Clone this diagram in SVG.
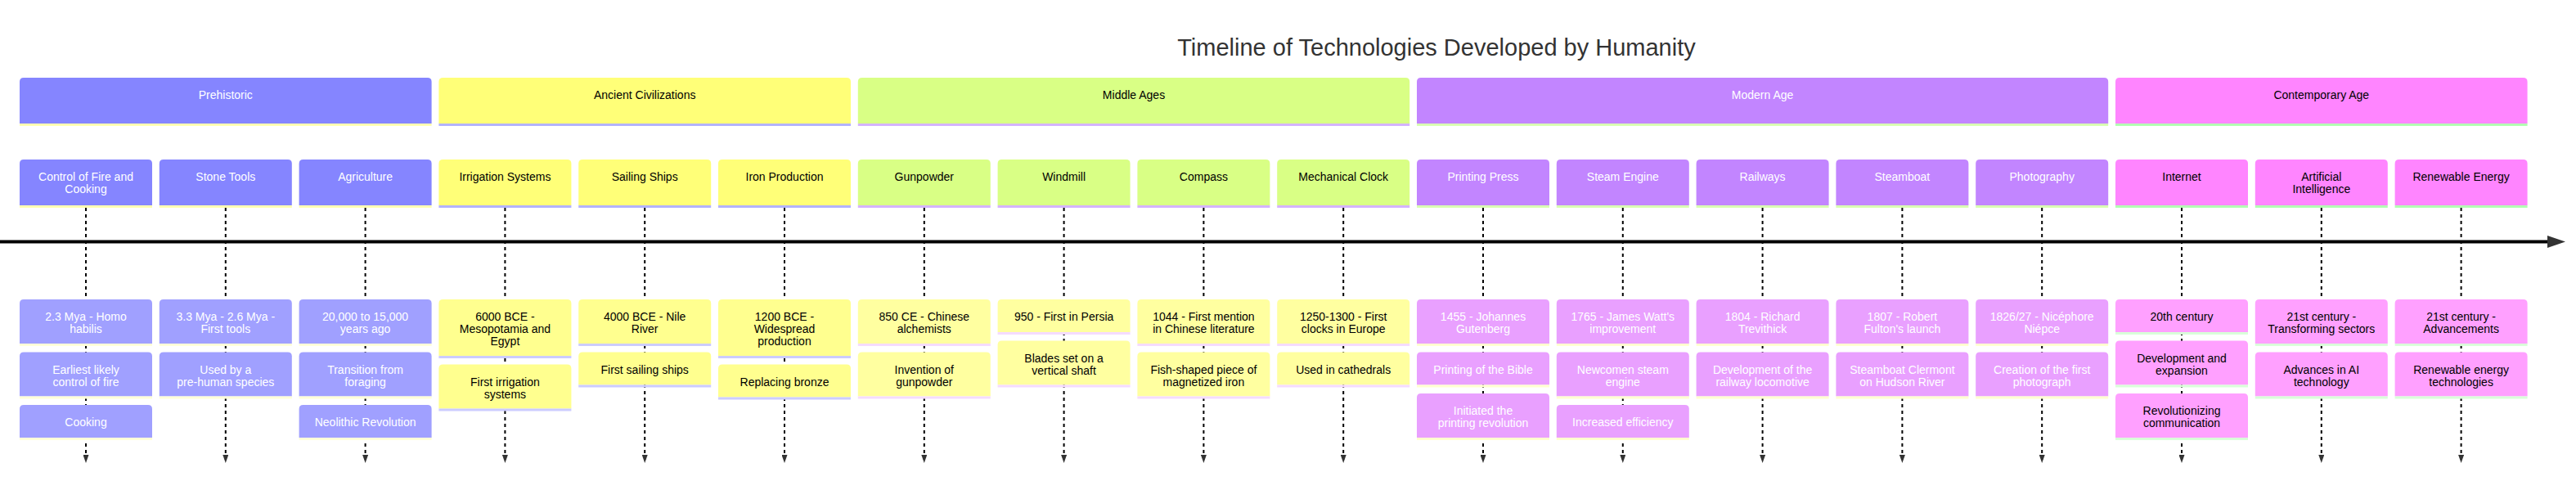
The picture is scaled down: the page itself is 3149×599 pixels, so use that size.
<svg xmlns="http://www.w3.org/2000/svg" width="3149" height="599" viewBox="0 0 3149 599">
<defs>
<style>
text{font-family:"Liberation Sans",Arial,sans-serif;font-size:14px;text-anchor:middle}
.title{font-size:29px;fill:#333}
.w{fill:#fff}.d{fill:#000}
.s0{fill:#8585ff}.e0{fill:#a0a0ff}.k0{stroke:#ffffb3}.m0{stroke:#ffffd9}
.s1{fill:#ffff78}.e1{fill:#ffff8f}.k1{stroke:#b3b3ff}.m1{stroke:#ccccff}
.s2{fill:#d9ff85}.e2{fill:#ffffa0}.k2{stroke:#d4b3ff}.m2{stroke:#f5dbff}
.s3{fill:#c285ff}.e3{fill:#e9a0ff}.k3{stroke:#d9ffb3}.m3{stroke:#ffffd0}
.s4{fill:#ff85ff}.e4{fill:#ffa0ff}.k4{stroke:#b3ffb3}.m4{stroke:#d9ffd9}
.ln{stroke-width:3;fill:none}
.dash{stroke:#000;stroke-width:2;stroke-dasharray:4 4;fill:none;marker-end:url(#ah)}
.axis{stroke:#000;stroke-width:4;fill:none}
</style>
<marker id="ah" viewBox="0 0 10 10" refX="10" refY="5" markerWidth="10" markerHeight="7" markerUnits="userSpaceOnUse" orient="auto" preserveAspectRatio="none"><path d="M0,0L10,5L0,10z" fill="#333"/></marker>
</defs>
<rect width="3149" height="599" fill="#fff"/>
<text class="title" x="1756" y="68">Timeline of Technologies Developed by Humanity</text>

<g id="connectors">
<path class="axis" d="M0,295.5H3118"/>
<path d="M3114,288L3136,295.5L3114,303z" fill="#333"/>
<path class="dash" d="M105,254V566"/>
<path class="dash" d="M275.8,254V566"/>
<path class="dash" d="M446.6,254V566"/>
<path class="dash" d="M617.4,254V566"/>
<path class="dash" d="M788.2,254V566"/>
<path class="dash" d="M959,254V566"/>
<path class="dash" d="M1129.8,254V566"/>
<path class="dash" d="M1300.6,254V566"/>
<path class="dash" d="M1471.4,254V566"/>
<path class="dash" d="M1642.2,254V566"/>
<path class="dash" d="M1813,254V566"/>
<path class="dash" d="M1983.8,254V566"/>
<path class="dash" d="M2154.6,254V566"/>
<path class="dash" d="M2325.4,254V566"/>
<path class="dash" d="M2496.2,254V566"/>
<path class="dash" d="M2667,254V566"/>
<path class="dash" d="M2837.8,254V566"/>
<path class="dash" d="M3008.6,254V566"/>
</g>

<!-- Sections -->
<g id="sec-prehistoric"><path class="s0" d="M24,151V100q0,-5 5,-5h493.6q5,0 5,5V151z"/><path class="ln k0" d="M24,152.5h503.6"/><text class="w" x="275.8" y="121">Prehistoric</text></g>
<g id="sec-ancient"><path class="s1" d="M536.4,151V100q0,-5 5,-5h493.6q5,0 5,5V151z"/><path class="ln k1" d="M536.4,152.5h503.6"/><text class="d" x="788.2" y="121">Ancient Civilizations</text></g>
<g id="sec-middle"><path class="s2" d="M1048.8,151V100q0,-5 5,-5h664.4q5,0 5,5V151z"/><path class="ln k2" d="M1048.8,152.5h674.4"/><text class="d" x="1386" y="121">Middle Ages</text></g>
<g id="sec-modern"><path class="s3" d="M1732,151V100q0,-5 5,-5h835.2q5,0 5,5V151z"/><path class="ln k3" d="M1732,152.5h845.2"/><text class="w" x="2154.6" y="121">Modern Age</text></g>
<g id="sec-contemporary"><path class="s4" d="M2586,151V100q0,-5 5,-5h493.6q5,0 5,5V151z"/><path class="ln k4" d="M2586,152.5h503.6"/><text class="d" x="2837.8" y="121">Contemporary Age</text></g>

<!-- Prehistoric -->
<g id="task-fire"><path class="s0" d="M24,251V200q0,-5 5,-5h152q5,0 5,5V251z"/><path class="ln k0" d="M24,252.5h162"/><text class="w" x="105" y="221">Control of Fire and<tspan x="105" dy="15">Cooking</tspan></text></g>
<g id="ev-fire-1"><path class="e0" d="M24,420V371q0,-5 5,-5h152q5,0 5,5V420z"/><path class="ln m0" d="M24,421.5h162"/><text class="w" x="105" y="392">2.3 Mya - Homo<tspan x="105" dy="15">habilis</tspan></text></g>
<g id="ev-fire-2"><path class="e0" d="M24,484.5V435.5q0,-5 5,-5h152q5,0 5,5V484.5z"/><path class="ln m0" d="M24,486h162"/><text class="w" x="105" y="456.5">Earliest likely<tspan x="105" dy="15">control of fire</tspan></text></g>
<g id="ev-fire-3"><path class="e0" d="M24,535V500q0,-5 5,-5h152q5,0 5,5V535z"/><path class="ln m0" d="M24,536.5h162"/><text class="w" x="105" y="521">Cooking</text></g>

<g id="task-stone"><path class="s0" d="M194.8,251V200q0,-5 5,-5h152q5,0 5,5V251z"/><path class="ln k0" d="M194.8,252.5h162"/><text class="w" x="275.8" y="221">Stone Tools</text></g>
<g id="ev-stone-1"><path class="e0" d="M194.8,420V371q0,-5 5,-5h152q5,0 5,5V420z"/><path class="ln m0" d="M194.8,421.5h162"/><text class="w" x="275.8" y="392">3.3 Mya - 2.6 Mya -<tspan x="275.8" dy="15">First tools</tspan></text></g>
<g id="ev-stone-2"><path class="e0" d="M194.8,484.5V435.5q0,-5 5,-5h152q5,0 5,5V484.5z"/><path class="ln m0" d="M194.8,486h162"/><text class="w" x="275.8" y="456.5">Used by a<tspan x="275.8" dy="15">pre-human species</tspan></text></g>

<g id="task-agri"><path class="s0" d="M365.6,251V200q0,-5 5,-5h152q5,0 5,5V251z"/><path class="ln k0" d="M365.6,252.5h162"/><text class="w" x="446.6" y="221">Agriculture</text></g>
<g id="ev-agri-1"><path class="e0" d="M365.6,420V371q0,-5 5,-5h152q5,0 5,5V420z"/><path class="ln m0" d="M365.6,421.5h162"/><text class="w" x="446.6" y="392">20,000 to 15,000<tspan x="446.6" dy="15">years ago</tspan></text></g>
<g id="ev-agri-2"><path class="e0" d="M365.6,484.5V435.5q0,-5 5,-5h152q5,0 5,5V484.5z"/><path class="ln m0" d="M365.6,486h162"/><text class="w" x="446.6" y="456.5">Transition from<tspan x="446.6" dy="15">foraging</tspan></text></g>
<g id="ev-agri-3"><path class="e0" d="M365.6,535V500q0,-5 5,-5h152q5,0 5,5V535z"/><path class="ln m0" d="M365.6,536.5h162"/><text class="w" x="446.6" y="521">Neolithic Revolution</text></g>

<!-- Ancient -->
<g id="task-irrigation"><path class="s1" d="M536.4,251V200q0,-5 5,-5h152q5,0 5,5V251z"/><path class="ln k1" d="M536.4,252.5h162"/><text class="d" x="617.4" y="221">Irrigation Systems</text></g>
<g id="ev-irrigation-1"><path class="e1" d="M536.4,435V371q0,-5 5,-5h152q5,0 5,5V435z"/><path class="ln m1" d="M536.4,436.5h162"/><text class="d" x="617.4" y="392">6000 BCE -<tspan x="617.4" dy="15">Mesopotamia and</tspan><tspan x="617.4" dy="15">Egypt</tspan></text></g>
<g id="ev-irrigation-2"><path class="e1" d="M536.4,499.5V450.5q0,-5 5,-5h152q5,0 5,5V499.5z"/><path class="ln m1" d="M536.4,501h162"/><text class="d" x="617.4" y="471.5">First irrigation<tspan x="617.4" dy="15">systems</tspan></text></g>

<g id="task-ships"><path class="s1" d="M707.2,251V200q0,-5 5,-5h152q5,0 5,5V251z"/><path class="ln k1" d="M707.2,252.5h162"/><text class="d" x="788.2" y="221">Sailing Ships</text></g>
<g id="ev-ships-1"><path class="e1" d="M707.2,420V371q0,-5 5,-5h152q5,0 5,5V420z"/><path class="ln m1" d="M707.2,421.5h162"/><text class="d" x="788.2" y="392">4000 BCE - Nile<tspan x="788.2" dy="15">River</tspan></text></g>
<g id="ev-ships-2"><path class="e1" d="M707.2,470.5V435.5q0,-5 5,-5h152q5,0 5,5V470.5z"/><path class="ln m1" d="M707.2,472h162"/><text class="d" x="788.2" y="456.5">First sailing ships</text></g>

<g id="task-iron"><path class="s1" d="M878,251V200q0,-5 5,-5h152q5,0 5,5V251z"/><path class="ln k1" d="M878,252.5h162"/><text class="d" x="959" y="221">Iron Production</text></g>
<g id="ev-iron-1"><path class="e1" d="M878,435V371q0,-5 5,-5h152q5,0 5,5V435z"/><path class="ln m1" d="M878,436.5h162"/><text class="d" x="959" y="392">1200 BCE -<tspan x="959" dy="15">Widespread</tspan><tspan x="959" dy="15">production</tspan></text></g>
<g id="ev-iron-2"><path class="e1" d="M878,485.5V450.5q0,-5 5,-5h152q5,0 5,5V485.5z"/><path class="ln m1" d="M878,487h162"/><text class="d" x="959" y="471.5">Replacing bronze</text></g>

<!-- Middle Ages -->
<g id="task-gunpowder"><path class="s2" d="M1048.8,251V200q0,-5 5,-5h152q5,0 5,5V251z"/><path class="ln k2" d="M1048.8,252.5h162"/><text class="d" x="1129.8" y="221">Gunpowder</text></g>
<g id="ev-gunpowder-1"><path class="e2" d="M1048.8,420V371q0,-5 5,-5h152q5,0 5,5V420z"/><path class="ln m2" d="M1048.8,421.5h162"/><text class="d" x="1129.8" y="392">850 CE - Chinese<tspan x="1129.8" dy="15">alchemists</tspan></text></g>
<g id="ev-gunpowder-2"><path class="e2" d="M1048.8,484.5V435.5q0,-5 5,-5h152q5,0 5,5V484.5z"/><path class="ln m2" d="M1048.8,486h162"/><text class="d" x="1129.8" y="456.5">Invention of<tspan x="1129.8" dy="15">gunpowder</tspan></text></g>

<g id="task-windmill"><path class="s2" d="M1219.6,251V200q0,-5 5,-5h152q5,0 5,5V251z"/><path class="ln k2" d="M1219.6,252.5h162"/><text class="d" x="1300.6" y="221">Windmill</text></g>
<g id="ev-windmill-1"><path class="e2" d="M1219.6,406V371q0,-5 5,-5h152q5,0 5,5V406z"/><path class="ln m2" d="M1219.6,407.5h162"/><text class="d" x="1300.6" y="392">950 - First in Persia</text></g>
<g id="ev-windmill-2"><path class="e2" d="M1219.6,470.5V421.5q0,-5 5,-5h152q5,0 5,5V470.5z"/><path class="ln m2" d="M1219.6,472h162"/><text class="d" x="1300.6" y="442.5">Blades set on a<tspan x="1300.6" dy="15">vertical shaft</tspan></text></g>

<g id="task-compass"><path class="s2" d="M1390.4,251V200q0,-5 5,-5h152q5,0 5,5V251z"/><path class="ln k2" d="M1390.4,252.5h162"/><text class="d" x="1471.4" y="221">Compass</text></g>
<g id="ev-compass-1"><path class="e2" d="M1390.4,420V371q0,-5 5,-5h152q5,0 5,5V420z"/><path class="ln m2" d="M1390.4,421.5h162"/><text class="d" x="1471.4" y="392">1044 - First mention<tspan x="1471.4" dy="15">in Chinese literature</tspan></text></g>
<g id="ev-compass-2"><path class="e2" d="M1390.4,484.5V435.5q0,-5 5,-5h152q5,0 5,5V484.5z"/><path class="ln m2" d="M1390.4,486h162"/><text class="d" x="1471.4" y="456.5">Fish-shaped piece of<tspan x="1471.4" dy="15">magnetized iron</tspan></text></g>

<g id="task-clock"><path class="s2" d="M1561.2,251V200q0,-5 5,-5h152q5,0 5,5V251z"/><path class="ln k2" d="M1561.2,252.5h162"/><text class="d" x="1642.2" y="221">Mechanical Clock</text></g>
<g id="ev-clock-1"><path class="e2" d="M1561.2,420V371q0,-5 5,-5h152q5,0 5,5V420z"/><path class="ln m2" d="M1561.2,421.5h162"/><text class="d" x="1642.2" y="392">1250-1300 - First<tspan x="1642.2" dy="15">clocks in Europe</tspan></text></g>
<g id="ev-clock-2"><path class="e2" d="M1561.2,470.5V435.5q0,-5 5,-5h152q5,0 5,5V470.5z"/><path class="ln m2" d="M1561.2,472h162"/><text class="d" x="1642.2" y="456.5">Used in cathedrals</text></g>

<!-- Modern Age -->
<g id="task-printing"><path class="s3" d="M1732,251V200q0,-5 5,-5h152q5,0 5,5V251z"/><path class="ln k3" d="M1732,252.5h162"/><text class="w" x="1813" y="221">Printing Press</text></g>
<g id="ev-printing-1"><path class="e3" d="M1732,420V371q0,-5 5,-5h152q5,0 5,5V420z"/><path class="ln m3" d="M1732,421.5h162"/><text class="w" x="1813" y="392">1455 - Johannes<tspan x="1813" dy="15">Gutenberg</tspan></text></g>
<g id="ev-printing-2"><path class="e3" d="M1732,470.5V435.5q0,-5 5,-5h152q5,0 5,5V470.5z"/><path class="ln m3" d="M1732,472h162"/><text class="w" x="1813" y="456.5">Printing of the Bible</text></g>
<g id="ev-printing-3"><path class="e3" d="M1732,535V486q0,-5 5,-5h152q5,0 5,5V535z"/><path class="ln m3" d="M1732,536.5h162"/><text class="w" x="1813" y="507">Initiated the<tspan x="1813" dy="15">printing revolution</tspan></text></g>

<g id="task-steam"><path class="s3" d="M1902.8,251V200q0,-5 5,-5h152q5,0 5,5V251z"/><path class="ln k3" d="M1902.8,252.5h162"/><text class="w" x="1983.8" y="221">Steam Engine</text></g>
<g id="ev-steam-1"><path class="e3" d="M1902.8,420V371q0,-5 5,-5h152q5,0 5,5V420z"/><path class="ln m3" d="M1902.8,421.5h162"/><text class="w" x="1983.8" y="392">1765 - James Watt's<tspan x="1983.8" dy="15">improvement</tspan></text></g>
<g id="ev-steam-2"><path class="e3" d="M1902.8,484.5V435.5q0,-5 5,-5h152q5,0 5,5V484.5z"/><path class="ln m3" d="M1902.8,486h162"/><text class="w" x="1983.8" y="456.5">Newcomen steam<tspan x="1983.8" dy="15">engine</tspan></text></g>
<g id="ev-steam-3"><path class="e3" d="M1902.8,535V500q0,-5 5,-5h152q5,0 5,5V535z"/><path class="ln m3" d="M1902.8,536.5h162"/><text class="w" x="1983.8" y="521">Increased efficiency</text></g>

<g id="task-railways"><path class="s3" d="M2073.6,251V200q0,-5 5,-5h152q5,0 5,5V251z"/><path class="ln k3" d="M2073.6,252.5h162"/><text class="w" x="2154.6" y="221">Railways</text></g>
<g id="ev-railways-1"><path class="e3" d="M2073.6,420V371q0,-5 5,-5h152q5,0 5,5V420z"/><path class="ln m3" d="M2073.6,421.5h162"/><text class="w" x="2154.6" y="392">1804 - Richard<tspan x="2154.6" dy="15">Trevithick</tspan></text></g>
<g id="ev-railways-2"><path class="e3" d="M2073.6,484.5V435.5q0,-5 5,-5h152q5,0 5,5V484.5z"/><path class="ln m3" d="M2073.6,486h162"/><text class="w" x="2154.6" y="456.5">Development of the<tspan x="2154.6" dy="15">railway locomotive</tspan></text></g>

<g id="task-steamboat"><path class="s3" d="M2244.4,251V200q0,-5 5,-5h152q5,0 5,5V251z"/><path class="ln k3" d="M2244.4,252.5h162"/><text class="w" x="2325.4" y="221">Steamboat</text></g>
<g id="ev-steamboat-1"><path class="e3" d="M2244.4,420V371q0,-5 5,-5h152q5,0 5,5V420z"/><path class="ln m3" d="M2244.4,421.5h162"/><text class="w" x="2325.4" y="392">1807 - Robert<tspan x="2325.4" dy="15">Fulton's launch</tspan></text></g>
<g id="ev-steamboat-2"><path class="e3" d="M2244.4,484.5V435.5q0,-5 5,-5h152q5,0 5,5V484.5z"/><path class="ln m3" d="M2244.4,486h162"/><text class="w" x="2325.4" y="456.5">Steamboat Clermont<tspan x="2325.4" dy="15">on Hudson River</tspan></text></g>

<g id="task-photo"><path class="s3" d="M2415.2,251V200q0,-5 5,-5h152q5,0 5,5V251z"/><path class="ln k3" d="M2415.2,252.5h162"/><text class="w" x="2496.2" y="221">Photography</text></g>
<g id="ev-photo-1"><path class="e3" d="M2415.2,420V371q0,-5 5,-5h152q5,0 5,5V420z"/><path class="ln m3" d="M2415.2,421.5h162"/><text class="w" x="2496.2" y="392">1826/27 - Nicéphore<tspan x="2496.2" dy="15">Niépce</tspan></text></g>
<g id="ev-photo-2"><path class="e3" d="M2415.2,484.5V435.5q0,-5 5,-5h152q5,0 5,5V484.5z"/><path class="ln m3" d="M2415.2,486h162"/><text class="w" x="2496.2" y="456.5">Creation of the first<tspan x="2496.2" dy="15">photograph</tspan></text></g>

<!-- Contemporary -->
<g id="task-internet"><path class="s4" d="M2586,251V200q0,-5 5,-5h152q5,0 5,5V251z"/><path class="ln k4" d="M2586,252.5h162"/><text class="d" x="2667" y="221">Internet</text></g>
<g id="ev-internet-1"><path class="e4" d="M2586,406V371q0,-5 5,-5h152q5,0 5,5V406z"/><path class="ln m4" d="M2586,407.5h162"/><text class="d" x="2667" y="392">20th century</text></g>
<g id="ev-internet-2"><path class="e4" d="M2586,470.5V421.5q0,-5 5,-5h152q5,0 5,5V470.5z"/><path class="ln m4" d="M2586,472h162"/><text class="d" x="2667" y="442.5">Development and<tspan x="2667" dy="15">expansion</tspan></text></g>
<g id="ev-internet-3"><path class="e4" d="M2586,535V486q0,-5 5,-5h152q5,0 5,5V535z"/><path class="ln m4" d="M2586,536.5h162"/><text class="d" x="2667" y="507">Revolutionizing<tspan x="2667" dy="15">communication</tspan></text></g>

<g id="task-ai"><path class="s4" d="M2756.8,251V200q0,-5 5,-5h152q5,0 5,5V251z"/><path class="ln k4" d="M2756.8,252.5h162"/><text class="d" x="2837.8" y="221">Artificial<tspan x="2837.8" dy="15">Intelligence</tspan></text></g>
<g id="ev-ai-1"><path class="e4" d="M2756.8,420V371q0,-5 5,-5h152q5,0 5,5V420z"/><path class="ln m4" d="M2756.8,421.5h162"/><text class="d" x="2837.8" y="392">21st century -<tspan x="2837.8" dy="15">Transforming sectors</tspan></text></g>
<g id="ev-ai-2"><path class="e4" d="M2756.8,484.5V435.5q0,-5 5,-5h152q5,0 5,5V484.5z"/><path class="ln m4" d="M2756.8,486h162"/><text class="d" x="2837.8" y="456.5">Advances in AI<tspan x="2837.8" dy="15">technology</tspan></text></g>

<g id="task-renewable"><path class="s4" d="M2927.6,251V200q0,-5 5,-5h152q5,0 5,5V251z"/><path class="ln k4" d="M2927.6,252.5h162"/><text class="d" x="3008.6" y="221">Renewable Energy</text></g>
<g id="ev-renewable-1"><path class="e4" d="M2927.6,420V371q0,-5 5,-5h152q5,0 5,5V420z"/><path class="ln m4" d="M2927.6,421.5h162"/><text class="d" x="3008.6" y="392">21st century -<tspan x="3008.6" dy="15">Advancements</tspan></text></g>
<g id="ev-renewable-2"><path class="e4" d="M2927.6,484.5V435.5q0,-5 5,-5h152q5,0 5,5V484.5z"/><path class="ln m4" d="M2927.6,486h162"/><text class="d" x="3008.6" y="456.5">Renewable energy<tspan x="3008.6" dy="15">technologies</tspan></text></g>
</svg>
